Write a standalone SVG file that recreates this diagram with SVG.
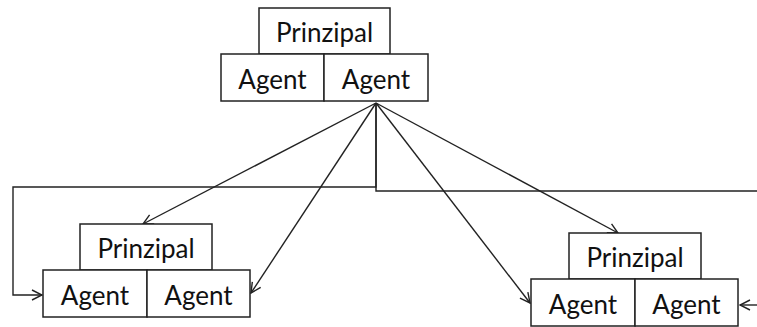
<svg xmlns="http://www.w3.org/2000/svg" width="757" height="327" viewBox="0 0 757 327">
<style>
.box{fill:#fff;stroke:#222;stroke-width:1.5}
.t{font-family:Lato,"Open Sans",sans-serif;font-size:26px;fill:#111;text-anchor:middle}
.c{fill:none;stroke:#222;stroke-width:1.4}
</style>
<defs>
<marker id="a" viewBox="0 0 12 12" refX="11" refY="6" markerWidth="12" markerHeight="12" markerUnits="userSpaceOnUse" orient="auto">
<path d="M1,1 L11,6 L1,11" fill="none" stroke="#222" stroke-width="1.4"/>
</marker>
</defs>
<rect width="757" height="327" fill="#fff"/>
<g id="connectors">
<line class="c" x1="376" y1="103" x2="143" y2="224" marker-end="url(#a)"/>
<line class="c" x1="376" y1="103" x2="251" y2="293" marker-end="url(#a)"/>
<line class="c" x1="376" y1="103" x2="530" y2="303" marker-end="url(#a)"/>
<line class="c" x1="376" y1="103" x2="618" y2="233" marker-end="url(#a)"/>
<polyline class="c" points="376,103 376,187 13,187 13,295 42,295" marker-end="url(#a)"/>
<polyline class="c" points="376,103 376,191 757,191"/>
<line class="c" x1="757" y1="305" x2="740" y2="305" marker-end="url(#a)"/>
</g>
<g id="top">
<rect class="box" x="259" y="8" width="131" height="46"/>
<rect class="box" x="221" y="54" width="103" height="47"/>
<rect class="box" x="324" y="54" width="104" height="47"/>
<text class="t" x="324.5" y="42">Prinzipal</text>
<text class="t" x="272.5" y="89">Agent</text>
<text class="t" x="376" y="89">Agent</text>
</g>
<g id="bottom-left">
<rect class="box" x="80" y="224" width="132" height="46"/>
<rect class="box" x="43" y="270" width="104" height="47"/>
<rect class="box" x="147" y="270" width="103" height="47"/>
<text class="t" x="146" y="258">Prinzipal</text>
<text class="t" x="95" y="305">Agent</text>
<text class="t" x="198.5" y="305">Agent</text>
</g>
<g id="bottom-right">
<rect class="box" x="569" y="233" width="132" height="46"/>
<rect class="box" x="531" y="279" width="104" height="47"/>
<rect class="box" x="635" y="279" width="103" height="47"/>
<text class="t" x="635" y="267">Prinzipal</text>
<text class="t" x="583" y="314">Agent</text>
<text class="t" x="686.5" y="314">Agent</text>
</g>
</svg>
